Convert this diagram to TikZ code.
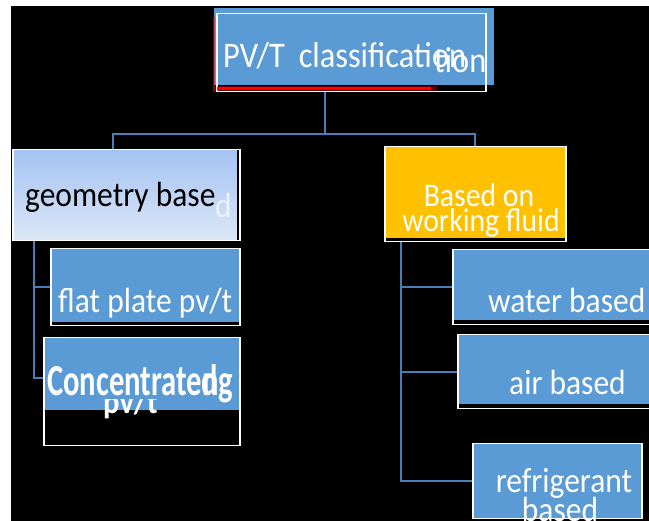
\documentclass[tikz,border=0pt]{standalone}
\usepackage{fontspec}
\setmainfont{Carlito}[FakeStretch=0.9]
\usepackage{graphicx}
\usepackage{xcolor}
\usetikzlibrary{backgrounds,calc}

\definecolor{boxblue}{HTML}{5B9BD5}
\definecolor{linkblue}{HTML}{4A7EBB}
\definecolor{fluidgold}{HTML}{FFC000}
\definecolor{geotop}{HTML}{A3C3F3}
\definecolor{geobot}{HTML}{DDE7F7}

\begin{document}
\begin{tikzpicture}[x=1pt,y=-1pt]
\tikzstyle{box}=[draw=white,line width=1.5pt,inner sep=0pt,anchor=north west]
\tikzstyle{txt}=[inner sep=0pt,anchor=base west,text=white,font=\fontsize{35}{35}\selectfont]
\tikzstyle{conn}=[draw=linkblue,line width=2pt]
\tikzstyle{strip}=[path picture={\fill[black] (path picture bounding box.south west) rectangle ([yshift=#1]path picture bounding box.south east);}]
\tikzstyle{rstrip}=[path picture={\fill[black] ([xshift=-3pt]path picture bounding box.south east) rectangle (path picture bounding box.north east);}]

\useasboundingbox (0,0) rectangle (649,521);

% top box
\node[box,draw=none,fill=boxblue,minimum width=280pt,minimum height=77pt] (titlebox) at (213,7) {};
\node[box,minimum width=269pt,minimum height=78pt] (titleframe) at (216,13) {};
\draw[red,opacity=.35,line width=5pt] ([xshift=1pt,yshift=4pt]titleframe.south west) -- ([xshift=221pt,yshift=4pt]titleframe.south west);
\draw[red,line width=3pt] ([xshift=1pt,yshift=4pt]titleframe.south west) -- ([xshift=215pt,yshift=4pt]titleframe.south west);
\draw[red,opacity=.6,line width=1.5pt] ([xshift=-2pt]titleframe.south west) -- ([xshift=-2pt,yshift=-4pt]titleframe.north west);
\node[txt,font=\fontsize{36}{36}\selectfont] (title) at (223,68) {PV/T\hspace{14pt}classification};
\node[txt,font=\fontsize{36}{36}\selectfont] (titleghost) at (434,73) {tion};

% geometry branch
\node[box,top color=geotop,bottom color=geobot,minimum width=227pt,minimum height=91pt,rstrip] (geo) at (12,149) {};
\node[txt,text=black] (geotext) at (25,207) {geometry base};
\node[txt,text=geobot!60!white] (geoghost) at (215,218) {d};

\node[box,fill=boxblue,minimum width=189pt,minimum height=77pt,strip=4pt] (flat) at (50,248) {};
\node[txt] (flattext) at (58,313) {flat plate pv/t};

\node[box,fill=boxblue,minimum width=196pt,minimum height=108pt,strip=36pt] (conc) at (43,337) {};
\node[txt,font=\bfseries\fontsize{34}{34}\selectfont] (conctext) at (47,396) {\scalebox{1}[1.3]{Concentrated}};
\node[txt,font=\bfseries\fontsize{34}{34}\selectfont] (concghost) at (202,396) {\scalebox{1}[1.3]{ng}};
\begin{scope}
\clip ([yshift=-63pt]conc.north west) rectangle ([yshift=-20pt]conc.south east);
\node[txt,font=\bfseries\fontsize{34}{34}\selectfont] (conctail) at (103,414) {pv/t};
\end{scope}

% fluid branch
\node[box,fill=fluidgold,minimum width=181pt,minimum height=95pt,strip=4pt] (based) at (384,146) {};
\node[txt,anchor=base,font=\fontsize{33}{33}\selectfont] (basedtop) at (479,207) {Based on};
\node[txt,anchor=base,font=\fontsize{33}{33}\selectfont] (basedbot) at (481,232) {working fluid};

\node[box,fill=boxblue,minimum width=203pt,minimum height=75pt,strip=5pt] (water) at (452,249) {};
\node[txt] (watertext) at (488,313) {water based};

\node[box,fill=boxblue,minimum width=198pt,minimum height=74pt,strip=5pt] (air) at (457,334) {};
\node[txt] (airtext) at (509,395) {air based};

\node[box,fill=boxblue,minimum width=169pt,minimum height=75pt] (refr) at (472,443) {};
\node[txt,anchor=base] (refrtop) at (564,493) {refrigerant};
\node[txt,anchor=base] (refrbot) at (560,522) {based};

\begin{scope}[on background layer]
\fill[white] (0,0) rectangle (649,521);
\fill[black] (11,6) rectangle (649,521);
\coordinate (hub) at (325,134);
\coordinate (lknee) at (113,134);
\coordinate (rknee) at (based.north |- hub);
\draw[conn] (titleframe.south -| hub) -- (hub);
\draw[conn] (geo.north -| lknee) -- (lknee) -- (rknee) -- (based.north);
\coordinate (ltrunk) at (34,0);
\draw[conn] (geo.south -| ltrunk) |- (flat.west);
\draw[conn] (geo.south -| ltrunk) |- ([yshift=14pt]conc.west);
\coordinate (rtrunk) at (401,0);
\draw[conn] (based.south -| rtrunk) |- (refr.west);
\foreach \n in {water,air}
	\draw[conn] (rtrunk |- \n.west) -- (\n.west);
\end{scope}
\end{tikzpicture}
\end{document}
